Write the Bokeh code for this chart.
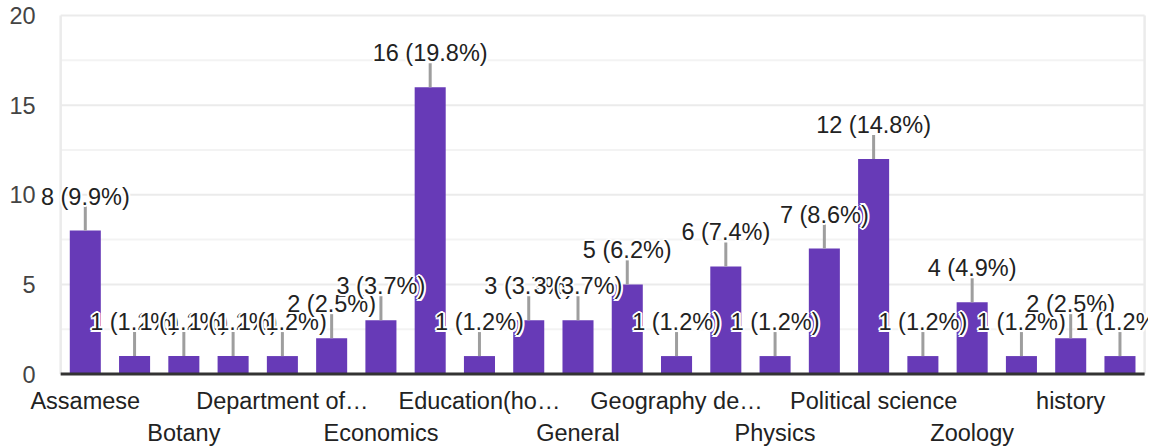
from bokeh.plotting import figure
from bokeh.models import ColumnDataSource, Range1d, LabelSet
from bokeh.core.properties import value
from bokeh.embed import file_html
from bokeh.resources import INLINE

# ---- data -------------------------------------------------------------
categories = ["Assamese", "Bengali", "Botany", "Chemistry", "Department of…",
              "Department of English", "Economics", "Education", "Education(ho…",
              "English", "General", "Geography", "Geography de…", "History",
              "Physics", "Political Science", "Political science", "Sociology",
              "Zoology", "education", "history", "political science"]
counts = [8, 1, 1, 1, 1, 2, 3, 16, 1, 3, 3, 5, 1, 6, 1, 7, 12, 1, 4, 1, 2, 1]
row1_labels = ["Assamese", "Department of…", "Education(ho…", "Geography de…",
               "Political science", "history"]
row2_labels = ["Botany", "Economics", "General", "Physics", "Zoology"]
y_ticks = [0, 5, 10, 15, 20]

# ---- layout / style ---------------------------------------------------
FONT = "Liberation Sans"
FS = "23.5px"
BAR = "#673ab7"
GRID = "#ebebeb"
W, H = 1148, 446
X0_PX, CAT_PX = 84.8, 49.27        # centre of first bar, spacing between bars
Y0_PX, UNIT_PX = 373.5, 17.925     # baseline from top, pixels per count
STEM_PX = 24
LABEL_OFF = 34
ROW1_OFF, ROW2_OFF = -27, -59
YLAB_OFF = -25

n = len(categories)
xs = list(range(n))
x_lo, x_hi = -0.5, n - 0.5
y_max = y_ticks[-1]
total = sum(counts)
texts = [f"{c} ({100 * c / total:.1f}%)" for c in counts]

p = figure(x_range=Range1d(-X0_PX / CAT_PX, (W - X0_PX) / CAT_PX),
           y_range=Range1d(-(H - Y0_PX) / UNIT_PX, Y0_PX / UNIT_PX),
           width=W, height=H, output_backend="svg", toolbar_location=None,
           x_axis_location=None, y_axis_location=None, min_border=0)
p.background_fill_color = "white"
p.border_fill_color = "white"
p.outline_line_color = None
p.grid.visible = False

# gridlines (major + half-way minor)
mids = [(a + b) / 2 for a, b in zip(y_ticks[:-1], y_ticks[1:])]
p.segment(x0=[x_lo] * len(mids), y0=mids, x1=[x_hi] * len(mids), y1=mids,
          line_color="#f3f3f3", line_width=2)
p.segment(x0=[x_lo] * len(y_ticks), y0=y_ticks, x1=[x_hi] * len(y_ticks), y1=y_ticks,
          line_color=GRID, line_width=2)
# plot-area side borders
p.segment(x0=[x_lo, x_hi], y0=[0, 0], x1=[x_lo, x_hi], y1=[y_max, y_max],
          line_color=GRID, line_width=2.5)

src = ColumnDataSource(dict(x=xs, count=counts,
                            stem_top=[c + STEM_PX / UNIT_PX for c in counts]))
p.vbar(x="x", top="count", width=0.63, source=src, fill_color=BAR, line_color=None)
p.segment(x0="x", y0="count", x1="x", y1="stem_top", source=src,
          line_color="#9e9e9e", line_width=3)

# baseline (x axis line)
p.segment(x0=[x_lo], y0=[0], x1=[x_hi], y1=[0], line_color="#333333", line_width=3)

# y tick labels
p.add_layout(LabelSet(x="x", y="y", text="text",
                      source=ColumnDataSource(dict(x=[x_lo] * len(y_ticks), y=y_ticks,
                                                   text=[str(t) for t in y_ticks])),
                      x_offset=YLAB_OFF, text_align="right", text_baseline="middle",
                      text_color="#444444", text_font=value(FONT), text_font_size=FS))

# category labels, two staggered rows under the baseline
cx = [categories.index(c) for c in row1_labels + row2_labels]
csrc = ColumnDataSource(dict(x=cx, y=[0] * len(cx), text=row1_labels + row2_labels,
                             dy=[ROW1_OFF] * len(row1_labels) + [ROW2_OFF] * len(row2_labels)))
p.add_layout(LabelSet(x="x", y="y", text="text", y_offset="dy", source=csrc,
                      text_color="#222222", text_align="center", text_baseline="middle",
                      text_font=value(FONT), text_font_size=FS))

# value labels with white halo (later labels drawn over earlier ones)
halo = [(-2, 0), (2, 0), (0, -2), (0, 2), (-1.5, -1.5), (1.5, 1.5), (-1.5, 1.5), (1.5, -1.5)]
lx, ly, lt, ldx, ldy, lc = [], [], [], [], [], []
for x, cnt, t in zip(xs, counts, texts):
    for dx, dy in halo + [(0, 0)]:
        lx.append(x); ly.append(cnt); lt.append(t)
        ldx.append(dx); ldy.append(LABEL_OFF + dy)
        lc.append("#222222" if (dx, dy) == (0, 0) else "white")
lsrc = ColumnDataSource(dict(x=lx, y=ly, text=lt, dx=ldx, dy=ldy, color=lc))
p.add_layout(LabelSet(x="x", y="y", text="text", x_offset="dx", y_offset="dy",
                      text_color="color", source=lsrc, text_align="center",
                      text_baseline="middle", text_font=value(FONT), text_font_size=FS))

open("out.html", "w").write(file_html(p, INLINE))
